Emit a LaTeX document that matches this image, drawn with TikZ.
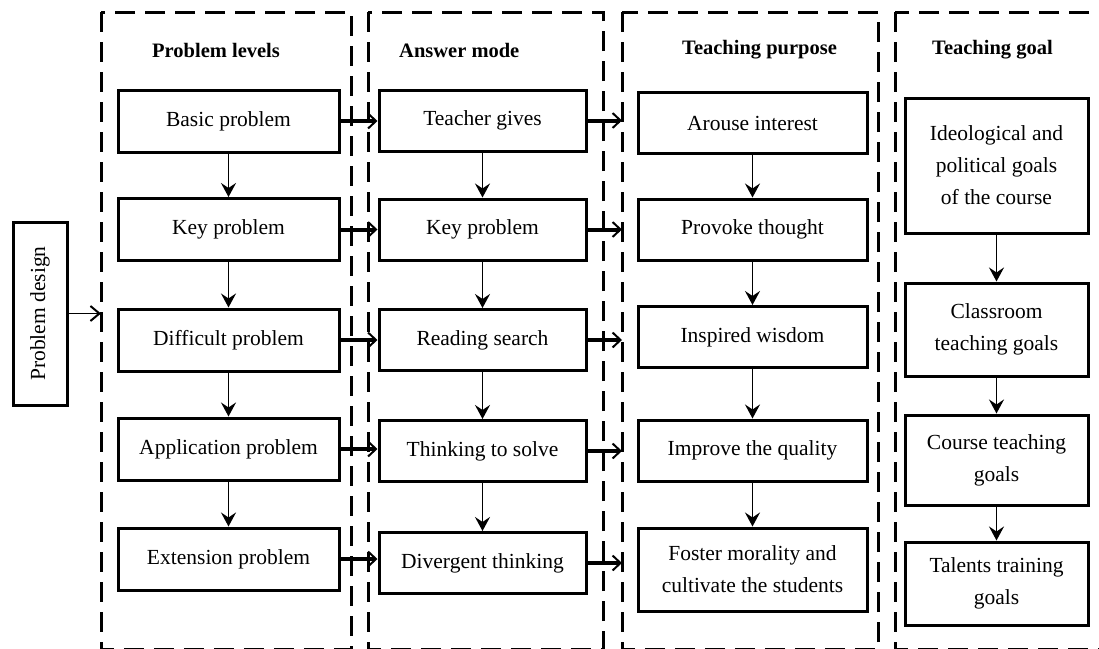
\documentclass[tikz,border=0pt]{standalone}
\usepackage{fontspec}
\setmainfont{Liberation Serif}
\usetikzlibrary{arrows.meta}
\newcommand\myfs{\fontsize{21.5}{32}\selectfont}
\newcommand\myhfs{\fontsize{20.5}{32}\selectfont}
\begin{document}
\begin{tikzpicture}[x=1pt,y=-1pt,
  box/.style={draw, line width=3pt, align=center, inner sep=0pt, font=\myfs},
  hdr/.style={anchor=west, inner sep=0pt, font=\bfseries\myhfs},
  frame/.style={draw, line width=3pt, dash pattern=on 20pt off 10pt},
  varrow/.style={line width=1.6pt, -{Stealth[length=14pt,width=15pt,inset=5pt]}},
  harrow/.style={line width=4pt, -{Straight Barb[length=8pt,width=15pt,line width=2pt]}},
  parrow/.style={line width=1.7pt, -{Straight Barb[length=9pt,width=15pt,line width=2pt]}}]
\useasboundingbox (0,0) rectangle (1099,648);
\clip (0,0) rectangle (1099,648);
\fill[white] (0,0) rectangle (1099,648);

% dashed column frames (bottom edge lies at the cut)
\draw[frame] (101,12) rectangle (351,649);
\draw[frame] (368,12) rectangle (603,649);
\draw[frame] (622,12) rectangle (878,649);
\draw[frame] (895,12) rectangle (1120,649);
\coordinate (f1) at (101,0);
\coordinate (f3) at (622,0);

% headers
\node[hdr] (h1) at (152,50) {Problem levels};
\node[hdr] (h2) at (399,50) {Answer mode};
\node[hdr] (h3) at (682,50) {Teaching purpose};
\node[hdr] (h4) at (932,50) {Teaching goal};

% problem design
\node[box, rotate=90, minimum width=183pt, minimum height=54pt] (pd) at (40,313.5) {Problem design};

% column 1
\tikzset{c1/.style={box, minimum width=221pt, minimum height=62pt}}
\node[c1] (a1) at (228.5,121) {Basic problem};
\node[c1] (a2) at (228.5,229.5) {Key problem};
\node[c1] (a3) at (228.5,340) {Difficult problem};
\node[c1] (a4) at (228.5,449) {Application problem};
\node[c1] (a5) at (228.5,559) {Extension problem};

% column 2
\tikzset{c2/.style={box, minimum width=207pt, minimum height=61pt}}
\node[c2] (b1) at (482.5,120.5) {Teacher gives};
\node[c2] (b2) at (482.5,229.5) {Key problem};
\node[c2] (b3) at (482.5,340) {Reading search};
\node[c2] (b4) at (482.5,451) {Thinking to solve};
\node[c2] (b5) at (482.5,563) {Divergent thinking};

% column 3
\tikzset{c3/.style={box, minimum width=229pt, minimum height=61pt}}
\node[c3] (c1) at (752.5,123) {Arouse interest};
\node[c3] (c2) at (752.5,229.5) {Provoke thought};
\node[c3] (c3) at (752.5,337) {Inspired wisdom};
\node[c3] (c4) at (752.5,450.5) {Improve the quality};
\node[c3, minimum height=83pt] (c5) at (752.5,569.5) {Foster morality and\\cultivate the students};

% column 4
\tikzset{c4/.style={box, minimum width=183pt}}
\node[c4, minimum height=135pt] (g1) at (996.5,165.5) {Ideological and\\political goals\\of the course};
\node[c4, minimum height=93pt] (g2) at (996.5,329.5) {Classroom\\teaching goals};
\node[c4, minimum height=90pt] (g3) at (996.5,460) {Course teaching\\goals};
\node[c4, minimum height=83pt] (g4) at (996.5,583.5) {Talents training\\goals};

% vertical arrows
\foreach \col in {a,b,c}{
  \draw[varrow] (\col1.south) -- (\col2.north);
  \draw[varrow] (\col2.south) -- (\col3.north);
  \draw[varrow] (\col3.south) -- (\col4.north);
  \draw[varrow] (\col4.south) -- (\col5.north);
}
\draw[varrow] (g1.south) -- (g2.north);
\draw[varrow] (g2.south) -- (g3.north);
\draw[varrow] (g3.south) -- (g4.north);

% horizontal arrows
\foreach \i in {1,...,5}{
  \draw[harrow] (a\i.east) -- (a\i.east -| b\i.west);
  \draw[harrow] (b\i.east) -- (b\i.east -| f3);
}
\draw[parrow] (pd.south) -- (pd.south -| f1);
\end{tikzpicture}
\end{document}
